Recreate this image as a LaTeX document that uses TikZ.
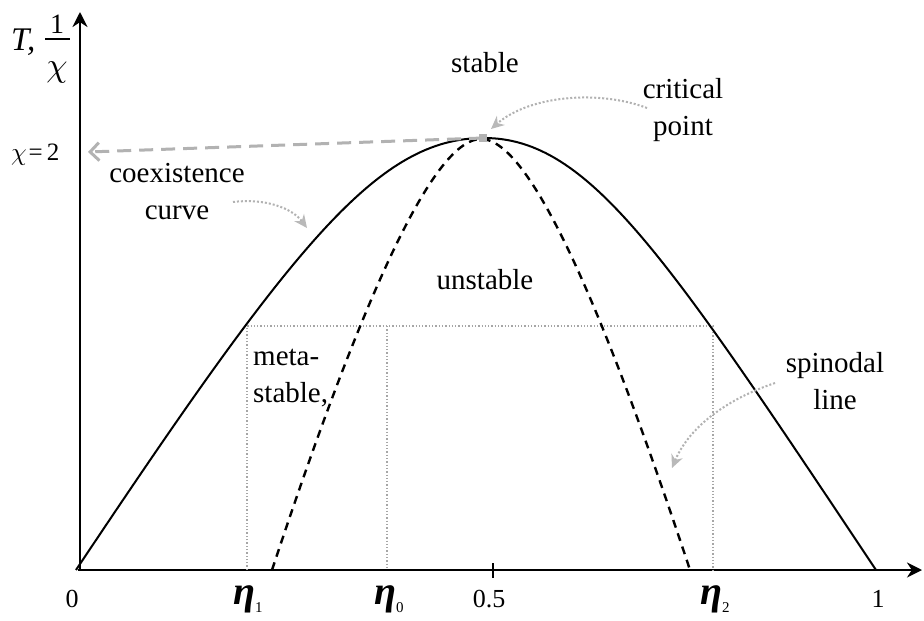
\documentclass[tikz,border=0pt]{standalone}
\usepackage{fontspec}
\setmainfont{Liberation Serif}
\usetikzlibrary{arrows.meta}
\begin{document}
\begin{tikzpicture}[x=1pt,y=-1pt,
  lbl/.style={font=\fontsize{29}{37}\selectfont, align=center, inner sep=0pt},
  ticklbl/.style={font=\fontsize{26}{26}\selectfont, inner sep=0pt, anchor=base},
  etalbl/.style={font=\fontsize{40}{40}\selectfont\bfseries\itshape, inner sep=0pt, anchor=base west},
  axisline/.style={line width=2.4pt, -{Stealth[length=15pt,width=15pt]}},
  guide/.style={gray!70, dotted, line width=1.3pt},
  ann/.style={gray!60, dotted, line width=2pt, -{Stealth[length=13pt,width=12pt,gray!55]}},
  coex/.style={line width=2pt},
  spin/.style={line width=2.4pt, dash pattern=on 8pt off 6pt},
]
\useasboundingbox (0,0) rectangle (924,621);
\fill[white] (0,0) rectangle (924,621);

% axes
\coordinate (O) at (78,570);
\coordinate (xend) at (922,570);
\coordinate (ybot) at (80,571);
\coordinate (yend) at (80,12);
\draw[axisline] (O) -- (xend);
\draw[axisline] (ybot) -- (yend);
\draw[line width=1.6pt] (493,563) -- (493,578);

% guide lines
\draw[guide] (247,570) -- (247,326) -- (713,326) -- (713,570);
\draw[guide] (387,326) -- (387,570);

% coexistence curve
\draw[coex] (76,570) .. controls (296,240) and (379,138) .. (484,138)
                     .. controls (589,138) and (666,255) .. (876,570);

% spinodal line
\draw[spin] (272,570) .. controls (368,280) and (436,139) .. (481,139)
                      .. controls (526,139) and (594,280) .. (690,570);

% chi = 2 arrow
\coordinate (peak) at (483,138);
\coordinate (chitwo) at (88,152);
\draw[gray!60, line width=3pt, dash pattern=on 14pt off 8pt,
  -{Straight Barb[length=9pt,width=18pt,line width=3pt]}] (peak) -- (chitwo);
\fill[gray!60] (479,134) rectangle (487,142);

% texts
\node[lbl] (stable) at (485,63) {stable};
\node[lbl] (crit) at (683,110) {critical\\point};
\node[lbl] (coexl) at (177,192) {coexistence\\curve};
\node[lbl] (unst) at (485,280) {unstable};
\node[lbl, align=left, anchor=west] (meta) at (253,378) {meta-\\stable,};
\node[lbl] (spinl) at (835,381) {spinodal\\line};

% annotation arrows
\coordinate (critA) at (647,108);
\coordinate (critT) at (491,129);
\coordinate (coexA) at (233,202);
\coordinate (coexT) at (307,228);
\coordinate (spinA) at (775,383);
\coordinate (spinT) at (672,468);
\draw[ann] (critA) .. controls (600,90) and (530,95) .. (critT);
\draw[ann] (coexA) .. controls (265,198) and (292,208) .. (coexT);
\draw[ann] (spinA) .. controls (730,398) and (690,425) .. (spinT);

% axis labels
\node[font=\fontsize{33}{33}\selectfont\itshape, anchor=base west, inner sep=0pt] (T) at (11,50) {T,};
\node[font=\fontsize{28}{28}\selectfont, anchor=base, inner sep=0pt] (one) at (57,33) {1};
\draw[line width=1.2pt] (45,39) -- (70,39);
\node[anchor=base, inner sep=0pt] (chi) at (57,76) {\scalebox{3.4}{$\chi$}};
\node[anchor=base west, inner sep=0pt] (chilab) at (11,160) {\scalebox{2.5}{$\chi$}\,\fontsize{25}{25}\selectfont =\,2};

% tick labels
\node[ticklbl] (l0) at (72,607) {0};
\node[ticklbl] (l05) at (489,607) {0.5};
\node[ticklbl] (l1) at (878,607) {1};
\node[etalbl] (e1) at (233,604) {η\raisebox{-8pt}{\fontsize{15}{15}\selectfont\mdseries\upshape 1}};
\node[etalbl] (e0) at (374,604) {η\raisebox{-8pt}{\fontsize{15}{15}\selectfont\mdseries\upshape 0}};
\node[etalbl] (e2) at (700,604) {η\raisebox{-8pt}{\fontsize{15}{15}\selectfont\mdseries\upshape 2}};
\end{tikzpicture}
\end{document}
